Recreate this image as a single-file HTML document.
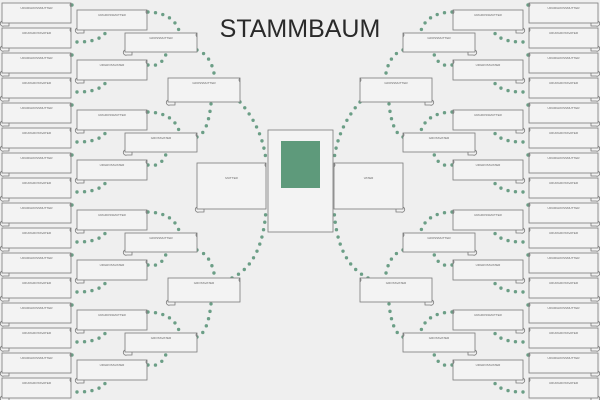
<!DOCTYPE html>
<html><head><meta charset="utf-8"><style>
html,body{margin:0;padding:0;background:#efefef;}
#s{position:absolute;left:0;top:0;width:600px;height:400px;overflow:hidden;background:#efefef;}
svg{position:absolute;left:0;top:0;}
</style></head><body><div id="s">
<svg id="g" width="600" height="400" xmlns="http://www.w3.org/2000/svg"></svg>
</div>
<script>
var g=document.getElementById('g'),out='';
var c1=[],c2=[],c3=[],c4=[];
for(var i=0;i<16;i++)c1.push({x:2,y:3+25*i,w:69,h:20,t:i%2?'URURGROSSVATER':'URURGROSSMUTTER'});
for(var i=0;i<8;i++)c2.push({x:77,y:10+50*i,w:70,h:20,t:i%2?'URGROSSVATER':'URGROSSMUTTER'});
for(var i=0;i<4;i++)c3.push({x:125,y:33+100*i,w:72,h:19,t:i%2?'GROSSVATER':'GROSSMUTTER'});
for(var i=0;i<2;i++)c4.push({x:168,y:78+200*i,w:72,h:24,t:i%2?'GROSSVATER':'GROSSMUTTER'});
var m={x:197,y:163,w:69,h:46,t:'MUTTER'};
var all=[].concat(c1,c2,c3,c4,[m]);
function dots(x1,y1,cx,cy,x2,y2){out+='<path d="M'+x1+' '+y1+' Q'+cx+' '+cy+' '+x2+' '+y2+'" fill="none" stroke="#6b9e86" stroke-width="3.4" stroke-linecap="round" stroke-dasharray="0 7.5"/>';}
for(var i=0;i<8;i++){
  var A=c1[2*i],B=c1[2*i+1],P=c2[i];
  dots(72,A.y+2,74,A.y+2,77,P.y-1);
  var qx=P.x+P.w*0.43;
  dots(77,B.y+B.h-6,qx-5,B.y+B.h-6,qx,P.y+P.h);
}
for(var i=0;i<4;i++){
  var A=c2[2*i],B=c2[2*i+1],P=c3[i];
  var px=P.x+P.w*0.76;
  dots(148,A.y+2,px-5,A.y+3,px,P.y);
  var qx=P.x+P.w*0.58;
  dots(148,B.y+5,qx-5,B.y+8,qx,P.y+P.h);
}
for(var i=0;i<2;i++){
  var A=c3[2*i],B=c3[2*i+1],P=c4[i];
  var px=P.x+P.w*0.65;
  dots(197,A.y+A.h-2,px-3,A.y+A.h+3,px,P.y);
  var qx=P.x+P.w*0.6;
  dots(197,B.y+4,qx-3,B.y,qx,P.y+P.h);
}
dots(240,c4[0].y+c4[0].h,262,c4[0].y+c4[0].h+25,266,160);
dots(232,c4[1].y,263,c4[1].y-15,266,209);
function drawBox(b){
  var x=b.x,y=b.y,w=b.w,h=b.h;
  out+='<path d="M'+(x+7)+' '+(y+h)+' v3 h-5 a2.5 2.5 0 0 1 -2 -5" fill="#f2f2f2" stroke="#7a7a7a" stroke-width="0.8"/>';
  out+='<rect x="'+x+'" y="'+y+'" width="'+w+'" height="'+h+'" fill="#f3f3f3" stroke="#7a7a7a" stroke-width="0.8"/>';
  out+='<path d="M'+(x+w)+' '+y+' q-2 2 0 4" fill="none" stroke="#7a7a7a" stroke-width="0.8"/>';
}
all.forEach(drawBox);
var left=out;
var t='';
all.forEach(function(b){
  var ty=b.y+(b.h>30?16:6);
  t+='<text x="'+(b.x+b.w/2)+'" y="'+ty+'" font-family="Liberation Sans,sans-serif" font-size="3" fill="#666" text-anchor="middle">'+b.t+'</text>';
  var rt=(b===m)?'VATER':b.t;
  t+='<text x="'+(600-b.x-b.w/2)+'" y="'+ty+'" font-family="Liberation Sans,sans-serif" font-size="3" fill="#666" text-anchor="middle">'+rt+'</text>';
});
t+='<rect x="268" y="130" width="65" height="102" fill="#f3f3f3" stroke="#7a7a7a" stroke-width="0.8"/>';
t+='<rect x="281" y="141" width="39" height="47" fill="#5e9a7b"/>';
t+='<text x="300" y="37" font-family="Liberation Sans,sans-serif" font-size="25" fill="#2a2a2a" text-anchor="middle">STAMMBAUM</text>';
g.innerHTML='<g>'+left+'</g><g transform="translate(600,0) scale(-1,1)">'+left+'</g>'+t;
</script>
</body></html>
